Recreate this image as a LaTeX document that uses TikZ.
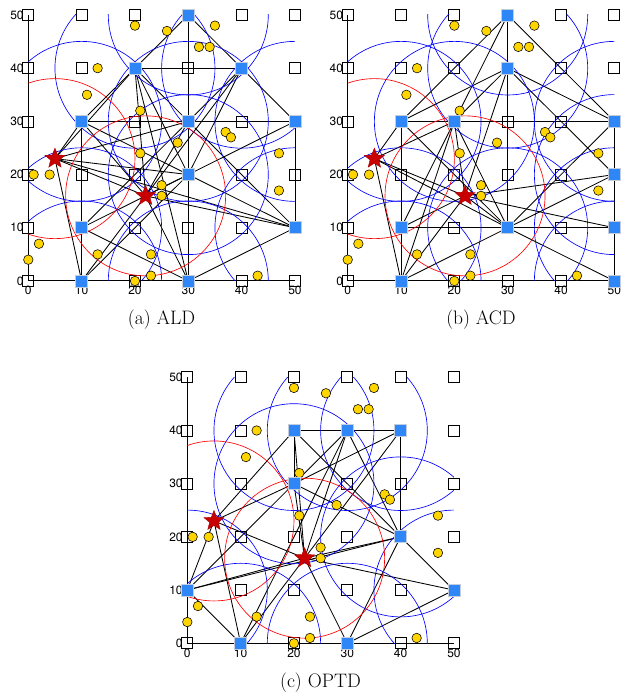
\documentclass[tikz,border=0pt]{standalone}
\usepackage{fontspec}
\setsansfont{TeX Gyre Heros}
\usetikzlibrary{shapes.geometric}
\definecolor{relayblue}{RGB}{47,134,246}
\definecolor{relayedge}{RGB}{195,205,220}
\definecolor{dotgold}{RGB}{255,213,0}
\definecolor{stardark}{RGB}{200,0,0}
\tikzset{
  gridsq/.style={shape=rectangle, draw=black, line width=0.75pt, minimum size=11pt, inner sep=0pt},
  relay/.style={shape=rectangle, fill=relayblue, draw=relayedge, line width=0.9pt, minimum size=12pt, inner sep=0pt},
  sensor/.style={shape=circle, fill=dotgold, draw=black, line width=0.55pt, minimum size=9.5pt, inner sep=0pt},
  target/.style={shape=star, star points=5, star point ratio=2.3, fill=stardark, draw=stardark!85!black, line width=0.4pt, minimum size=21pt, inner sep=0pt},
  link/.style={draw=black, line width=0.85pt},
  cover/.style={draw=blue, line width=0.65pt},
  tcover/.style={draw=red, line width=0.65pt},
  axisline/.style={draw=black, line width=1pt},
  ticklab/.style={font=\sffamily\fontsize{12}{12}\selectfont, inner sep=0pt},
  caption/.style={font=\fontsize{19.5}{22}\selectfont, inner sep=0pt}
}
\newcommand\panelback[1]{%
  \foreach \i in {0,...,5}{\foreach \j in {0,...,5}{\coordinate (#1-\i-\j) at (10*\i,10*\j);}}
  \coordinate (#1-s1) at (5,23);
  \coordinate (#1-s2) at (22,16);
  \foreach \i in {0,...,5}{\foreach \j in {0,...,5}{\node[gridsq] (#1-g-\i-\j) at (#1-\i-\j) {};}}
  \draw[axisline] (#1-0-5) -- (#1-0-0) -- (#1-5-0);
  \foreach \i in {0,...,5}{%
    \pgfmathtruncatemacro\lab{10*\i}
    \node[ticklab, anchor=north] (#1-xl-\i) at ([yshift=-5pt]#1-\i-0) {\lab};
    \node[ticklab, anchor=east] (#1-yl-\i) at ([xshift=-4.5pt]#1-0-\i) {\lab};
  }
}
\newcommand\panellinks[2]{%
  \foreach \p/\q in {#2}{\draw[link] (#1-\p) -- (#1-\q);}
}
\newcommand\panelfront[2]{%
  \begin{scope}
    \clip (0,0) rectangle (50,50);
    \foreach \u/\v in {#2}{\draw[cover] (#1-\u-\v) circle[radius=80pt];}
    \draw[tcover] (#1-s1) circle[radius=80pt];
    \draw[tcover] (#1-s2) circle[radius=80pt];
  \end{scope}
  \foreach \x/\y [count=\k] in {20/48,26/47,35/48,32/44,34/44,13/40,11/35,21/32,28/26,37/28,38/27,21/24,47/24,1/20,4/20,25/18,25/16,47/17,2/7,0/4,13/5,23/5,23/1,20/0,43/1}{%
    \node[sensor] (#1-d-\k) at (\x,\y) {};
  }
  \foreach \u/\v in {#2}{\node[relay] (#1-r-\u-\v) at (#1-\u-\v) {};}
  \node[target] (#1-t1) at (#1-s1) {};
  \node[target] (#1-t2) at (#1-s2) {};
}
\begin{document}
\begin{tikzpicture}[x=1pt,y=1pt]
\useasboundingbox (0,0) rectangle (631,692);
% ---------------- (a) ALD
\begin{scope}[shift={(28.3,411)},x=5.333pt,y=5.32pt]
  \panelback{a}
  \panellinks{a}{3-5/2-4,3-5/4-4,3-5/3-0,2-4/4-4,2-4/1-3,2-4/s1,2-4/s2,2-4/3-3,2-4/3-2,2-4/3-0,
    4-4/5-3,4-4/3-3,4-4/3-2,4-4/s2,1-3/5-3,1-3/1-0,1-3/s1,1-3/3-2,1-3/s2,
    3-3/s1,3-3/s2,3-3/1-1,3-3/5-1,5-3/5-1,5-3/3-2,3-2/s1,3-2/s2,3-2/1-1,3-2/5-1,3-2/1-0,
    1-1/3-0,5-1/s1,5-1/s2,5-1/3-0,1-0/s1,1-0/s2,3-0/s2,s1/s2}
  \panelfront{a}{3/5,2/4,4/4,1/3,3/3,5/3,3/2,1/1,5/1,1/0,3/0}
\end{scope}
\node[caption] (capa) at (161.5,372) {(a) ALD};
% ---------------- (b) ACD
\begin{scope}[shift={(347.7,411)},x=5.333pt,y=5.32pt]
  \panelback{b}
  \panellinks{b}{3-5/3-1,3-5/1-3,3-5/2-3,3-5/5-3,3-4/1-3,3-4/2-3,3-4/5-3,3-4/5-2,3-4/s2,
    1-3/5-3,1-3/1-0,1-3/s1,1-3/3-1,2-3/s1,2-3/s2,2-3/1-1,2-3/3-1,2-3/1-0,
    5-3/5-0,5-3/3-1,5-2/3-1,5-2/s2,1-1/5-1,1-1/s2,3-1/s1,3-1/s2,3-1/1-0,3-1/5-0,
    5-1/s2,1-0/s1,1-0/s2,s1/s2}
  \panelfront{b}{3/5,3/4,1/3,2/3,5/3,5/2,1/1,3/1,5/1,1/0,5/0}
\end{scope}
\node[caption] (capb) at (481,372) {(b) ACD};
% ---------------- (c) OPTD
\begin{scope}[shift={(187.3,48.7)},x=5.333pt,y=5.32pt]
  \panelback{c}
  \panellinks{c}{2-4/4-4,4-4/4-2,2-4/2-3,2-4/s1,2-4/s2,2-4/4-2,3-4/2-3,3-4/s2,3-4/4-2,3-4/1-0,
    4-4/2-3,4-4/s2,2-3/s1,2-3/0-1,2-3/4-2,2-3/s2,4-2/0-1,4-2/s2,4-2/5-1,4-2/3-0,
    0-1/s1,0-1/s2,0-1/1-0,1-0/s1,1-0/s2,3-0/s2,3-0/5-1,s1/s2,s2/5-1}
  \panelfront{c}{2/4,3/4,4/4,2/3,4/2,0/1,5/1,1/0,3/0}
\end{scope}
\node[caption] (capc) at (320.5,9.5) {(c) OPTD};
\end{tikzpicture}
\end{document}
